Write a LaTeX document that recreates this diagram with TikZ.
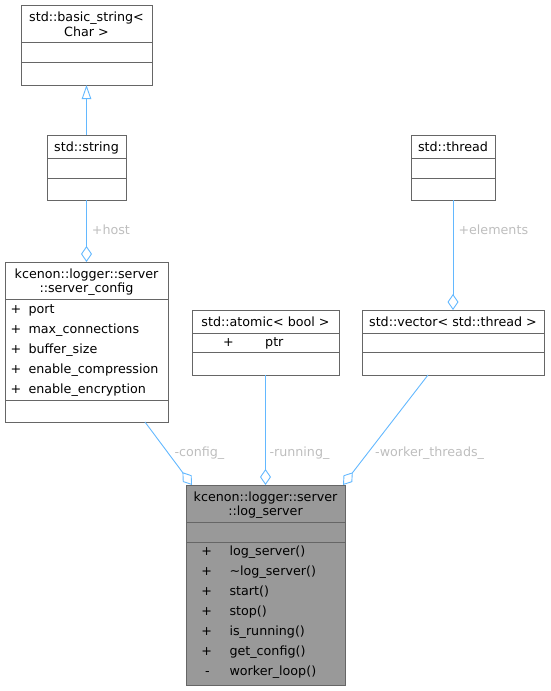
\documentclass[tikz,border=0pt]{standalone}
\usepackage{fontspec}
\setmainfont{DejaVu Sans}
\usetikzlibrary{arrows.meta,calc}
\definecolor{edgec}{HTML}{63B8FF}
\definecolor{bord}{HTML}{666666}
\definecolor{lblc}{HTML}{BEBEBE}
\definecolor{mainfill}{HTML}{999999}
\begin{document}
\begin{tikzpicture}[x=1pt,y=-1pt,
  box/.style={draw=bord, line width=0.9pt, inner sep=0pt, outer sep=0pt, anchor=north west, fill=white},
  mainbox/.style={box, fill=mainfill},
  divline/.style={draw=bord, line width=0.9pt},
  txt/.style={inner sep=0pt, anchor=base, font=\fontsize{12.7}{15}\selectfont},
  ltxt/.style={txt, anchor=base west},
  lbl/.style={ltxt, text=lblc},
  conn/.style={draw=edgec, line width=0.9pt},
  agg/.style={conn, -{Diamond[open, length=16pt, width=11pt]}},
  inh/.style={conn, -{Triangle[open, length=14pt, width=9.5pt]}}
]
\useasboundingbox (0,0) rectangle (550,691);

% std::basic_string< Char >
\node[box, minimum width=131pt, minimum height=80pt] (b1) at (21,5) {};
\draw[divline] (b1.west |- 0,42.7) -- (b1.east |- 0,42.7);
\draw[divline] (b1.west |- 0,62.7) -- (b1.east |- 0,62.7);
\node[txt] (b1t1) at (b1.north |- 0,21) {std::basic\_string<};
\node[txt] (b1t2) at (b1.north |- 0,36) {Char >};

% std::string
\node[box, minimum width=79pt, minimum height=65pt] (b2) at (47,135) {};
\draw[divline] (b2.west |- 0,158) -- (b2.east |- 0,158);
\draw[divline] (b2.west |- 0,178) -- (b2.east |- 0,178);
\node[txt] (b2t) at (b2.north |- 0,151.5) {std::string};

% std::thread
\node[box, minimum width=84pt, minimum height=65pt] (b6) at (411,135) {};
\draw[divline] (b6.west |- 0,158) -- (b6.east |- 0,158);
\draw[divline] (b6.west |- 0,178) -- (b6.east |- 0,178);
\node[txt] (b6t) at (b6.north |- 0,151.5) {std::thread};

% server_config
\node[box, minimum width=163pt, minimum height=160pt] (b3) at (5,262) {};
\draw[divline] (b3.west |- 0,299.3) -- (b3.east |- 0,299.3);
\draw[divline] (b3.west |- 0,400.3) -- (b3.east |- 0,400.3);
\node[txt] (b3t1) at (b3.north |- 0,278.3) {kcenon::logger::server};
\node[txt] (b3t2) at (b3.north |- 0,292.7) {::server\_config};
\node[txt] (b3p1) at (16,313.3) {+};
\node[ltxt] (b3a1) at (28.3,313.3) {port};
\node[txt] (b3p2) at (16,333.3) {+};
\node[ltxt] (b3a2) at (28.3,333.3) {max\_connections};
\node[txt] (b3p3) at (16,353.3) {+};
\node[ltxt] (b3a3) at (28.3,353.3) {buffer\_size};
\node[txt] (b3p4) at (16,373.3) {+};
\node[ltxt] (b3a4) at (28.3,373.3) {enable\_compression};
\node[txt] (b3p5) at (16,393.3) {+};
\node[ltxt] (b3a5) at (28.3,393.3) {enable\_encryption};

% std::atomic< bool >
\node[box, minimum width=147pt, minimum height=65pt] (b4) at (192,310) {};
\draw[divline] (b4.west |- 0,333.3) -- (b4.east |- 0,333.3);
\draw[divline] (b4.west |- 0,352.7) -- (b4.east |- 0,352.7);
\node[txt] (b4t) at (b4.north |- 0,326.7) {std::atomic< bool >};
\node[txt] (b4p) at (228.5,346.7) {+};
\node[ltxt] (b4a) at (265,346.7) {ptr};

% std::vector< std::thread >
\node[box, minimum width=182pt, minimum height=65pt] (b5) at (362,310) {};
\draw[divline] (b5.west |- 0,333.3) -- (b5.east |- 0,333.3);
\draw[divline] (b5.west |- 0,352.7) -- (b5.east |- 0,352.7);
\node[txt] (b5t) at (b5.north |- 0,326.7) {std::vector< std::thread >};

% log_server
\node[mainbox, minimum width=159pt, minimum height=200pt] (b7) at (186,485) {};
\draw[divline] (b7.west |- 0,522.3) -- (b7.east |- 0,522.3);
\draw[divline] (b7.west |- 0,542.3) -- (b7.east |- 0,542.3);
\node[txt] (b7t1) at (b7.north |- 0,501) {kcenon::logger::server};
\node[txt] (b7t2) at (b7.north |- 0,515.7) {::log\_server};
\node[txt] (b7p1) at (206.8,555) {+};
\node[ltxt] (b7m1) at (229.3,555) {log\_server()};
\node[txt] (b7p2) at (206.8,575) {+};
\node[ltxt] (b7m2) at (229.3,575) {\textasciitilde log\_server()};
\node[txt] (b7p3) at (206.8,595) {+};
\node[ltxt] (b7m3) at (229.3,595) {start()};
\node[txt] (b7p4) at (206.8,615) {+};
\node[ltxt] (b7m4) at (229.3,615) {stop()};
\node[txt] (b7p5) at (206.8,635) {+};
\node[ltxt] (b7m5) at (229.3,635) {is\_running()};
\node[txt] (b7p6) at (206.8,655) {+};
\node[ltxt] (b7m6) at (229.3,655) {get\_config()};
\node[txt] (b7p7) at (207.3,675) {-};
\node[ltxt] (b7m7) at (229.3,675) {worker\_loop()};

% connectors
\draw[inh] (b2.north) -- (b1.south);
\draw[agg] (b2.south) -- (b3.north);
\node[lbl] (lhost) at (91.7,234.5) {+host};
\draw[agg] (b6.south) -- (b5.north);
\node[lbl] (lelem) at (458.3,234.5) {+elements};

\coordinate (cfgs) at ([xshift=-23pt]b3.south east);
\coordinate (cfge) at ([xshift=6pt]b7.north west);
\draw[agg] (cfgs) -- (cfge);
\node[lbl] (lcfg) at (174.3,456.5) {-config\_};

\draw[agg] (b4.south) -- (b7.north);
\node[lbl] (lrun) at (269.3,456.5) {-running\_};

\coordinate (wts) at ([xshift=-25pt]b5.south);
\coordinate (wte) at ([xshift=-2pt]b7.north east);
\draw[agg] (wts) -- (wte);
\node[lbl] (lwt) at (375,456.5) {-worker\_threads\_};
\end{tikzpicture}
\end{document}
